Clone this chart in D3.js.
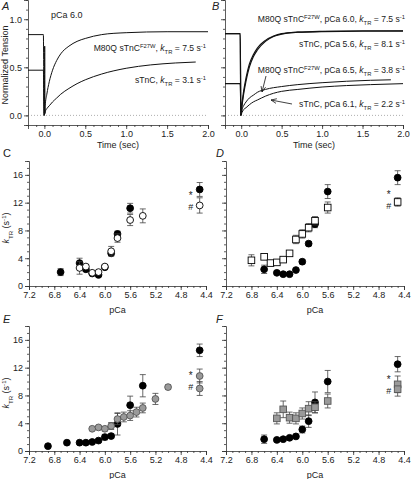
<!DOCTYPE html>
<html><head><meta charset="utf-8">
<script src="https://cdn.jsdelivr.net/npm/d3@7"></script>
<style>body{margin:0;background:#fff}svg{display:block}text{font-family:"Liberation Sans",Arial,sans-serif;fill:#222}</style>
</head><body><script>
// ---------- DATA ----------
// Panel A traces (time in s, normalized tension)
const tA1 = [-0.2,-0.012,-0.004,0.0,0.004,0.008,0.01,0.03,0.06,0.1,0.15,0.2,0.3,0.4,0.5,0.7,1.0,1.5,2.0];
const vA1 = [0.84,0.84,0.01,0.0,0.72,0.02,0.1,0.22,0.35,0.47,0.57,0.64,0.72,0.77,0.80,0.84,0.86,0.87,0.87];
const tA2 = [-0.2,-0.012,-0.004,0.01,0.03,0.06,0.1,0.15,0.2,0.3,0.4,0.5,0.7,1.0,1.3,1.6,1.85];
const vA2 = [0.47,0.47,0.0,0.04,0.07,0.10,0.14,0.18,0.22,0.28,0.33,0.37,0.43,0.49,0.525,0.545,0.555];
// Panel B traces
const tB1 = [-0.2,-0.012,-0.004,0.01,0.03,0.06,0.1,0.15,0.2,0.3,0.4,0.5,0.7,1.0,1.5,2.0];
const vB1 = [0.85,0.85,0.0,0.10,0.22,0.36,0.50,0.61,0.68,0.77,0.82,0.845,0.865,0.875,0.88,0.88];
const tB2 = [-0.2,-0.012,-0.004,0.01,0.03,0.06,0.1,0.15,0.2,0.3,0.4,0.5,0.7,1.0,1.5,2.0];
const vB2 = [0.85,0.85,0.0,0.12,0.25,0.39,0.53,0.63,0.70,0.78,0.825,0.85,0.865,0.872,0.875,0.877];
const tB3 = [-0.2,-0.012,-0.004,0.01,0.03,0.06,0.1,0.15,0.2,0.3,0.5,0.7,1.0,1.3,1.6,1.85];
const vB3 = [0.33,0.33,0.0,0.06,0.10,0.14,0.18,0.21,0.24,0.27,0.30,0.32,0.34,0.355,0.365,0.37];
const tB4 = [-0.2,-0.012,-0.004,0.01,0.03,0.06,0.1,0.15,0.2,0.3,0.4,0.5,0.7,1.0,1.3,1.6,2.0];
const vB4 = [0.33,0.33,0.0,0.03,0.06,0.08,0.11,0.14,0.16,0.20,0.23,0.25,0.27,0.295,0.31,0.32,0.33];

// Panel C
const pcaC_f = [6.7,6.4,6.3,6.2,6.1,6.0,5.9,5.8,5.6,4.5];
const ktrC_f = [2.0,3.3,2.4,1.8,1.6,2.7,4.7,7.5,11.2,13.9];
const errC_f = [0.5,0.7,0.3,0.2,0.2,0.2,0.3,0.4,0.7,1.0];
const pcaC_o = [6.4,6.3,6.2,6.1,6.0,5.9,5.8,5.6,5.4,4.5];
const ktrC_o = [2.6,2.8,1.9,2.0,2.8,5.0,6.9,9.5,10.1,11.6];
const errC_o = [0.9,0.3,0.2,0.2,0.2,0.7,0.6,0.8,1.0,1.1];
// Panel D
const pcaD_f = [6.6,6.4,6.3,6.2,6.1,6.0,5.9,5.8,5.6,4.5];
const ktrD_f = [2.4,1.9,1.7,1.7,2.3,3.5,6.1,8.9,13.6,15.6];
const errD_f = [0.6,0.2,0.2,0.2,0.2,0.3,0.3,0.5,1.0,1.0];
const pcaD_o = [6.8,6.6,6.5,6.4,6.3,6.2,6.1,6.0,5.9,5.8,5.6,4.5];
const ktrD_o = [3.7,4.2,3.3,3.4,3.8,4.7,6.7,7.5,8.4,9.4,11.3,12.1];
const errD_o = [0.8,0.3,0.2,0.2,0.2,0.2,0.6,0.6,0.6,0.6,0.8,0.6];
// Panel E
const pcaE_f = [6.9,6.6,6.4,6.3,6.2,6.1,6.0,5.9,5.8,5.6,5.4,4.5];
const ktrE_f = [0.7,1.2,1.2,1.2,1.3,1.5,2.0,2.15,3.9,6.6,9.4,14.5];
const errE_f = [0.2,0.2,0.2,0.2,0.2,0.2,0.4,0.3,1.6,1.3,1.6,0.9];
const pcaE_g = [6.2,6.1,6.0,5.9,5.8,5.7,5.6,5.5,5.4,5.2,5.0,4.5,4.5];
const ktrE_g = [3.2,3.4,3.2,3.6,4.6,4.9,5.1,5.6,6.2,7.5,9.2,10.8,9.0];
const errE_g = [0.2,0.2,0.3,0.5,0.8,0.7,0.7,0.7,0.7,0.8,0.3,1.0,1.0];
// Panel F
const pcaF_f = [6.6,6.4,6.3,6.2,6.1,6.0,5.9,5.8,5.6,4.5];
const ktrF_f = [1.7,1.6,1.7,1.9,2.1,3.1,4.3,7.0,10.0,12.5];
const errF_f = [0.6,0.2,0.2,0.2,0.2,0.5,0.9,1.5,1.6,1.1];
const pcaF_g = [6.4,6.3,6.2,6.1,6.0,5.9,5.8,5.6,4.5,4.5];
const ktrF_g = [4.7,6.0,4.8,4.7,5.4,6.1,6.3,7.2,9.6,8.9];
const errF_g = [0.8,1.2,0.8,0.8,0.8,1.0,0.8,1.0,1.2,1.0];

// tick labels
const timeTicks = [0,0.5,1.0,1.5,2.0];
const tensTicks = [0,0.5,1.0];
const pcaTicks = [7.2,6.8,6.4,6.0,5.6,5.2,4.8,4.4];
const ktrTicks = [0,4,8,12,16];

// ---------- DRAW ----------
const W=411,H=479;
const svg=d3.select("body").append("svg").attr("width",W).attr("height",H);
const FS=9;      // tick labels / axis titles
const LS=8.6;    // annotation labels
const axisCol="#333";

function range(a,b,s){const r=[];for(let v=a;v<=b+1e-9;v+=s)r.push(+v.toFixed(3));return r;}

function drawAxis(g, scale, orient, pos, majors, minors, fmt, showLabels){
  const mk = ()=> orient==="bottom"? d3.axisBottom(scale) : d3.axisLeft(scale);
  const tr = orient==="bottom"?`translate(0,${pos})`:`translate(${pos},0)`;
  const gM = g.append("g").attr("transform", tr);
  gM.call(mk().tickValues(majors).tickSizeOuter(0).tickSize(4).tickPadding(2).tickFormat(showLabels?fmt:()=>""));
  const gm = g.append("g").attr("transform", tr);
  gm.call(mk().tickValues(minors).tickSizeOuter(0).tickSize(2).tickFormat(()=>""));
  gm.select(".domain").remove();
  [gM,gm].forEach(s=>{s.selectAll("line").attr("stroke",axisCol).attr("stroke-width",0.8);
    s.selectAll(".domain").attr("stroke",axisCol).attr("stroke-width",0.8);
    s.selectAll("text").attr("font-size",FS).attr("fill","#222").attr("font-family","Liberation Sans, Arial, sans-serif");});
}

function panelLetter(x,y,l,upright){svg.append("text").attr("x",x).attr("y",y).attr("font-size",11).attr("font-style",upright?"normal":"italic").text(l);}

function rich(g,x,y,parts,anchor,fs){
  const f=fs||LS;
  const t=g.append("text").attr("x",x).attr("y",y).attr("font-size",f).attr("text-anchor",anchor||"start");
  parts.forEach(p=>{
    const s=t.append("tspan").text(p.t);
    if(p.sup){s.attr("baseline-shift","super").attr("font-size",f*0.68);}
    if(p.sub){s.attr("baseline-shift","sub").attr("font-size",f*0.68);}
    if(p.it){s.attr("font-style","italic");}
  });
  return t;
}

// ----- A & B -----
const yT = d3.scaleLinear().domain([-0.1,1.2]).range([125,0]);
const xA = d3.scaleLinear().domain([-0.2,2.0]).range([28,208]);
const xB = d3.scaleLinear().domain([-0.2,2.0]).range([225,403]);

function tracePanel(x, showY, traces){
  const g=svg.append("g");
  g.append("line").attr("x1",x.range()[0]).attr("x2",x.range()[1]).attr("y1",yT(0)).attr("y2",yT(0))
    .attr("stroke","#999").attr("stroke-width",0.8).attr("stroke-dasharray","1,2");
  drawAxis(g,x,"bottom",yT.range()[0],timeTicks,range(-0.2,2.0,0.1),d3.format(".1f"),true);
  drawAxis(g,yT,"left",x.range()[0],tensTicks,range(-0.1,1.2,0.1),d3.format(".1f"),showY);
  const line=d3.line().x(d=>x(d[0])).y(d=>yT(d[1])).curve(d3.curveMonotoneX);
  traces.forEach(tr=>{
    g.append("path").attr("d",line(tr.t.map((t,i)=>[t,tr.v[i]]))).attr("fill","none")
      .attr("stroke","#111").attr("stroke-width",tr.w||1);
  });
  g.append("text").attr("x",(x.range()[0]+x.range()[1])/2).attr("y",148).attr("text-anchor","middle").attr("font-size",FS).text("Time (sec)");
  return g;
}
const gA=tracePanel(xA,true,[{t:tA1,v:vA1},{t:tA2,v:vA2}]);
const gB=tracePanel(xB,false,[{t:tB1,v:vB1,w:1.2},{t:tB2,v:vB2,w:1.2},{t:tB3,v:vB3},{t:tB4,v:vB4}]);

panelLetter(2,10,"A"); panelLetter(212,10,"B");
svg.append("text").attr("transform","translate(8,65) rotate(-90)").attr("text-anchor","middle").attr("font-size",FS).text("Normalized Tension");
svg.append("text").attr("x",51).attr("y",18).attr("font-size",FS).text("pCa 6.0");
rich(gA,206,51,[{t:"M80Q sTnC"},{t:"F27W",sup:1},{t:", "},{t:"k",it:1},{t:"TR",sub:1},{t:" = 7.5 s"},{t:"-1",sup:1}],"end");
rich(gA,206,83,[{t:"sTnC, "},{t:"k",it:1},{t:"TR",sub:1},{t:" = 3.1 s"},{t:"-1",sup:1}],"end");

rich(gB,405,22,[{t:"M80Q sTnC"},{t:"F27W",sup:1},{t:", pCa 6.0, "},{t:"k",it:1},{t:"TR",sub:1},{t:" = 7.5 s"},{t:"-1",sup:1}],"end");
rich(gB,405,47,[{t:"sTnC, pCa 5.6, "},{t:"k",it:1},{t:"TR",sub:1},{t:" = 8.1 s"},{t:"-1",sup:1}],"end");
rich(gB,405,73,[{t:"M80Q sTnC"},{t:"F27W",sup:1},{t:", pCa 6.5, "},{t:"k",it:1},{t:"TR",sub:1},{t:" = 3.8 s"},{t:"-1",sup:1}],"end");
rich(gB,405,107,[{t:"sTnC, pCa 6.1, "},{t:"k",it:1},{t:"TR",sub:1},{t:" = 2.2 s"},{t:"-1",sup:1}],"end");
function arrow(g,x1,y1,x2,y2){
  g.append("line").attr("x1",x1).attr("y1",y1).attr("x2",x2).attr("y2",y2).attr("stroke","#111").attr("stroke-width",0.8);
  const a=Math.atan2(y2-y1,x2-x1), L=6, s=0.4;
  [a+Math.PI-s,a+Math.PI+s].forEach(b=>g.append("line").attr("x1",x2).attr("y1",y2)
    .attr("x2",x2+L*Math.cos(b)).attr("y2",y2+L*Math.sin(b)).attr("stroke","#111").attr("stroke-width",0.8));
}
arrow(gB,266,76,262,92);
arrow(gB,292,104,271,100);

// ----- C-F -----
function pcaPanel(x0,x1,y0,y1,showY,series,markK){
  const x=d3.scaleLinear().domain([7.2,4.4]).range([x0,x1]);
  const y=d3.scaleLinear().domain([0,18]).range([y0,y1]);
  const g=svg.append("g");
  drawAxis(g,x,"bottom",y0,pcaTicks,range(4.4,7.2,0.1),d3.format(".1f"),true);
  drawAxis(g,y,"left",x0,ktrTicks,range(0,18,1),d3.format("d"),showY);
  g.append("text").attr("x",(x0+x1)/2).attr("y",y0+27).attr("text-anchor","middle").attr("font-size",FS).text("pCa");
  series.forEach(s=>{
    const d=s.p.map((p,i)=>({p,k:s.k[i],e:s.e[i]}));
    const eb=g.append("g").attr("stroke","#444").attr("stroke-width",0.8);
    d.forEach(o=>{ if(o.e>0){
      eb.append("line").attr("x1",x(o.p)).attr("x2",x(o.p)).attr("y1",y(o.k-o.e)).attr("y2",y(o.k+o.e));
      [o.k-o.e,o.k+o.e].forEach(v=>eb.append("line").attr("x1",x(o.p)-3).attr("x2",x(o.p)+3).attr("y1",y(v)).attr("y2",y(v)));
    }});
    const fill=s.style==="filled"?"#000":s.style==="open"?"#fff":"#9a9a9a";
    const stroke=s.style==="gray"?"#555":"#000";
    if(s.shape==="circle"){
      g.selectAll(null).data(d).enter().append("circle").attr("cx",o=>x(o.p)).attr("cy",o=>y(o.k)).attr("r",3.4)
        .attr("fill",fill).attr("stroke",stroke).attr("stroke-width",0.9);
    } else {
      g.selectAll(null).data(d).enter().append("rect").attr("x",o=>x(o.p)-3.3).attr("y",o=>y(o.k)-3.3)
        .attr("width",6.6).attr("height",6.6).attr("fill",fill).attr("stroke",stroke).attr("stroke-width",0.9);
    }
  });
  // significance marks "*" and "#" to the left of the pCa 4.5 points
  const yk=y(markK);
  g.append("text").attr("x",x(4.5)-9).attr("y",yk-5).attr("text-anchor","middle").attr("font-size",10).text("*");
  g.append("text").attr("x",x(4.5)-9).attr("y",yk+6).attr("text-anchor","middle").attr("font-size",9).text("#");
  return g;
}
pcaPanel(29,206,286,161,true,[
  {p:pcaC_f,k:ktrC_f,e:errC_f,style:"filled",shape:"circle"},
  {p:pcaC_o,k:ktrC_o,e:errC_o,style:"open",shape:"circle"}], 11.8);
pcaPanel(226,404,286,161,false,[
  {p:pcaD_f,k:ktrD_f,e:errD_f,style:"filled",shape:"circle"},
  {p:pcaD_o,k:ktrD_o,e:errD_o,style:"open",shape:"square"}], 12.0);
pcaPanel(29,206,451,326,true,[
  {p:pcaE_f,k:ktrE_f,e:errE_f,style:"filled",shape:"circle"},
  {p:pcaE_g,k:ktrE_g,e:errE_g,style:"gray",shape:"circle"}], 9.6);
pcaPanel(226,404,451,326,false,[
  {p:pcaF_f,k:ktrF_f,e:errF_f,style:"filled",shape:"circle"},
  {p:pcaF_g,k:ktrF_g,e:errF_g,style:"gray",shape:"square"}], 9.1);

panelLetter(3,157,"C",true); panelLetter(216,157,"D");
panelLetter(3,323,"E"); panelLetter(216,323,"F");
function ktrLabel(cy){
  rich(svg,0,0,[{t:"k",it:1},{t:"TR",sub:1},{t:" (s"},{t:"-1",sup:1},{t:")"}],"middle",FS)
    .attr("transform",`translate(9,${cy}) rotate(-90)`);
}
ktrLabel(228); ktrLabel(393);
</script></body></html>
